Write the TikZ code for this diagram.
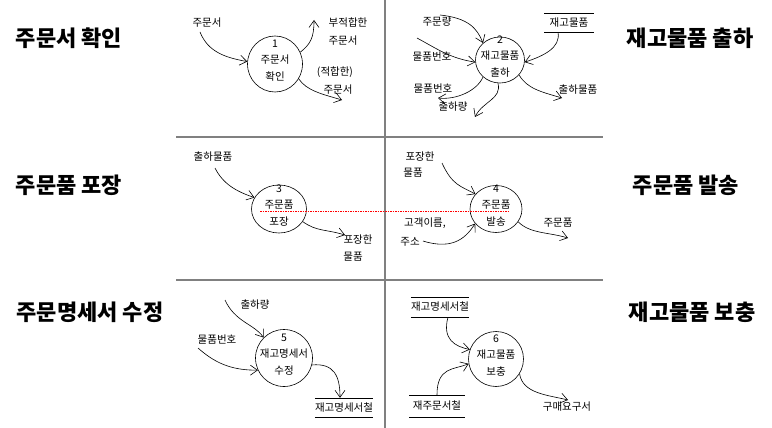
\documentclass[tikz,border=0pt]{standalone}
\usepackage{fontspec}
\setmainfont{Noto Sans CJK KR}
\usepackage{tikz}
\usetikzlibrary{arrows.meta,positioning,shapes.geometric}

\begin{document}
\begin{tikzpicture}[
  x=1pt,
  y=-1pt,
  font=\fontsize{10.5}{12}\selectfont,
  flow/.style={-{Straight Barb[length=7pt,width=10pt]}, semithick},
  proc/.style={draw, ellipse, inner sep=0pt, semithick},
  store/.style={inner sep=0pt, minimum height=#1},
  title/.style={font=\fontsize{22}{26}\selectfont\bfseries},
  grid/.style={gray, line width=1.6pt}
]
\useasboundingbox (0,0) rectangle (772,428);
% quadrants
\draw[grid] (385,0) -- (385,428);
\draw[grid] (176,137) -- (603,137) (176,280) -- (603,280);

\node[title] (t1) at (69,38) {주문서 확인};
\node[title] (t2) at (690,38) {재고물품 출하};
\node[title] (t3) at (69,185) {주문품 포장};
\node[title] (t4) at (686,185) {주문품 발송};
\node[title] (t5) at (90,312) {주문명세서 수정};
\node[title] (t6) at (692,312) {재고물품 보충};

% processes
\foreach \n/\cx/\cy/\w/\h/\ta/\tb in {
  1/275/64/55/56/주문서/확인,
  2/500/60/49/46/재고물품/출하,
  3/279/209/55/48/주문품/포장,
  4/496/209/52/47/주문품/발송,
  5/284/358/57/57/재고명세서/수정,
  6/496/359/55/55/재고물품/보충
} {
  \node[proc, minimum width=\w pt, minimum height=\h pt] (p\n) at (\cx,\cy) {};
  \node (n\n) at (\cx,\cy-20) {\n};
  \node (pa\n) at (\cx,\cy-4) {\ta};
  \node (pb\n) at (\cx,\cy+13) {\tb};
}

% data stores
\node[store=19pt, minimum width=49pt] (s1) at (569,22.5) {재고물품};
\node[store=19pt, minimum width=52pt] (s2) at (344,407.5) {재고명세서철};
\node[store=20pt, minimum width=55pt] (s3) at (440,307) {재고명세서철};
\node[store=22pt, minimum width=55pt] (s4) at (437,406) {재주문서철};
\foreach \s in {s1,s2,s3,s4}
  \draw (\s.north west) -- (\s.north east) (\s.south west) -- (\s.south east);

% flow labels
\node (l1a) at (207,23) {주문서};
\node (l1b) at (348,23) {부적합한};
\node (l1c) at (343,41) {주문서};
\node (l1d) at (335,72) {(적합한)};
\node (l1e) at (338,90) {주문서};
\node (l2a) at (437,22) {주문량};
\node (l2b) at (432,57) {물품번호};
\node (l2c) at (433,89) {물품번호};
\node (l2d) at (453,107) {출하량};
\node (l2e) at (578,90) {출하물품};
\node (l3a) at (213,157) {출하물품};
\node (l3b) at (358,240) {포장한};
\node (l3c) at (353,257) {물품};
\node (l4a) at (420,157) {포장한};
\node (l4b) at (413,173) {물품};
\node (l4c) at (425,223) {고객이름,};
\node (l4d) at (410,242) {주소};
\node (l4e) at (558,223) {주문품};
\node (l5a) at (255,305) {출하량};
\node (l5b) at (217,340) {물품번호};
\node (l6a) at (567,407) {구매요구서};

% free ends
\coordinate (a1s) at (200,32);
\coordinate (a2e) at (314,20);
\coordinate (a3e) at (342,100);
\coordinate (b1s) at (440,15);
\coordinate (b2s) at (417,38);
\coordinate (b4e) at (438,98);
\coordinate (b5e) at (475,117);
\coordinate (b6e) at (562,98);
\coordinate (c1s) at (215,168);
\coordinate (c2e) at (345,235);
\coordinate (d1s) at (442,163);
\coordinate (d2s) at (423,241);
\coordinate (d3e) at (568,238);
\coordinate (e1s) at (225,300);
\coordinate (e2s) at (198,348);
\coordinate (f3e) at (568,400);

% flows
\draw[flow] (a1s) .. controls +(8,20) and +(-22,-4) .. (p1.175);
\draw[flow] (p1.25) .. controls +(10,-8) and +(0,18) .. (a2e);
\draw[flow] (p1.-32) .. controls +(8,12) and +(-20,-6) .. (a3e);
\draw[flow] (b1s) .. controls +(28,3) and +(-6,-15) .. (p2.135);
\draw[flow] (b2s) .. controls +(22,12) and +(-25,-4) .. (p2.185);
\draw[flow] ([xshift=-11pt]s1.south) .. controls +(3,16) and +(18,-6) .. (p2.-5);
\draw[flow] (p2.225) .. controls +(-6,14) and +(18,2) .. (b4e);
\draw[flow] (p2.265) .. controls +(4,16) and +(8,-16) .. (b5e);
\draw[flow] (p2.-38) .. controls +(8,14) and +(-20,-6) .. (b6e);
\draw[flow] (c1s) .. controls +(8,16) and +(-18,-6) .. (p3.155);
\draw[flow] (p3.-28) .. controls +(14,10) and +(-20,-6) .. (c2e);
\draw[flow] (d1s) .. controls +(10,22) and +(-15,-8) .. (p4.144);
\draw[flow] (d2s) .. controls +(32,10) and +(-8,12) .. (p4.215);
\draw[flow] (p4.-30) .. controls +(12,12) and +(-20,-6) .. (d3e);
\draw[flow] (e1s) .. controls +(10,22) and +(-10,-14) .. (p5.135);
\draw[flow] (e2s) .. controls +(20,18) and +(-22,0) .. (p5.205);
\draw[flow] (p5.-14) .. controls +(22,-2) and +(0,-22) .. ([xshift=-4pt]s2.north);
\draw[flow] ([xshift=8pt]s3.south) .. controls +(-6,22) and +(-15,-3) .. (p6.160);
\draw[flow] (s4.north) .. controls +(0,-28) and +(-15,6) .. (p6.190);
\draw[flow] (p6.-32) .. controls +(3,20) and +(-20,-5) .. (f3e);

\draw[draw=red, dash pattern=on 1.5pt off 1pt, line width=1pt] (260,211) -- (510,211);
\end{tikzpicture}
\end{document}
